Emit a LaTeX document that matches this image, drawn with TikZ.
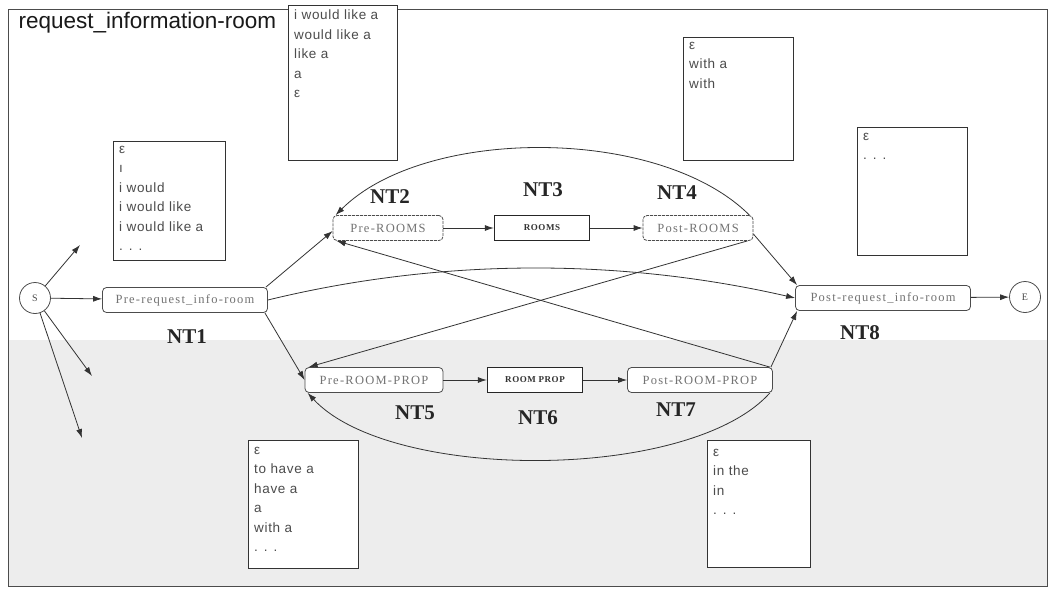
\documentclass[tikz,border=0pt]{standalone}
\usepackage{fontspec}
\setmainfont{Liberation Serif}
\setsansfont{Liberation Sans}
\newfontfamily\statefont[LetterSpace=10]{Liberation Serif}
\newfontfamily\corefont[LetterSpace=6]{Liberation Serif}
\newfontfamily\listfont[LetterSpace=5]{Liberation Sans}
\usetikzlibrary{arrows.meta}
\begin{document}
\begin{tikzpicture}[x=1pt,y=-1pt,
  state/.style={draw=black!70, line width=0.8pt, rounded corners=4pt, fill=white,
    font=\statefont\fontsize{12.5}{14}\selectfont, text=black!55, minimum height=25pt, inner sep=3pt},
  softstate/.style={state, dash pattern=on 3pt off 1pt},
  core/.style={draw=black!85, line width=1.4pt, fill=white,
    font=\corefont\fontsize{9}{10}\selectfont\bfseries, text=black!80, minimum height=25pt, minimum width=95pt},
  term/.style={circle, draw=black!70, line width=0.8pt, minimum size=31pt, fill=white,
    font=\fontsize{10}{12}\selectfont, text=black!70, inner sep=0pt},
  ntlabel/.style={font=\fontsize{21}{23}\selectfont\bfseries, text=black!85},
  listbox/.style={draw=black!80, line width=1pt, fill=white, anchor=north west, inner sep=0pt},
  listtext/.style={anchor=north west, align=left, font=\listfont\fontsize{13.5}{19.5}\selectfont,
    text=black!70, inner sep=0pt},
  link/.style={-{Latex[length=9pt,width=6pt]}, draw=black!80, line width=0.8pt}]

% page and frame
\useasboundingbox (0,0) rectangle (1053,590);
\fill[white] (0,0) rectangle (1053,590);
\fill[black!7] (8,340) rectangle (1047,586);
\draw[black!70, line width=1pt] (8,9) rectangle (1047,586);

% title
\node[anchor=west, font=\sffamily\fontsize{22.5}{26}\selectfont, text=black!90] (title) at (15,23) {request\_information-room};

% word lists
\node[listbox, minimum width=109pt, minimum height=155pt] (lA) at (288,5) {};
\node[listtext] (tA) at ([xshift=6pt,yshift=-5pt]lA.north west) {i would like a\\would like a\\like a\\a\\ε};

\node[listbox, minimum width=110pt, minimum height=123pt] (lB) at (683,37) {};
\node[listtext] (tB) at ([xshift=6pt,yshift=-5pt]lB.north west) {ε\\with a\\with};

\node[listbox, minimum width=110pt, minimum height=128pt] (lC) at (857,127) {};
\node[listtext] (tC) at ([xshift=6pt,yshift=-6pt]lC.north west) {ε\\. . .};

\node[listbox, minimum width=112pt, minimum height=119pt] (lD) at (113,141) {};
\node[listtext] (tD) at ([xshift=6pt,yshift=-5pt]lD.north west) {ε\\ı\\i would\\i would like\\i would like a\\. . .};

\node[listbox, minimum width=110pt, minimum height=128pt] (lE) at (248,440) {};
\node[listtext] (tE) at ([xshift=6pt,yshift=-7pt]lE.north west) {ε\\to have a\\have a\\a\\with a\\. . .};

\node[listbox, minimum width=103pt, minimum height=127pt] (lF) at (707,440) {};
\node[listtext] (tF) at ([xshift=6pt,yshift=-9pt]lF.north west) {ε\\in the\\in\\. . .};

% states
\node[term] (S) at (35,298) {S};
\node[term] (E) at (1025,297) {E};
\node[state, minimum width=165pt] (pre) at (185,300) {Pre-request\_info-room};
\node[softstate, minimum width=110pt] (preR) at (388,228) {Pre-ROOMS};
\node[core] (rooms) at (542,228) {ROOMS};
\node[softstate, minimum width=110pt] (postR) at (698,228) {Post-ROOMS};
\node[state, minimum width=138pt] (prp) at (374,380) {Pre-ROOM-PROP};
\node[core] (roomprop) at (535,380) {ROOM PROP};
\node[state, minimum width=145pt] (pstP) at (700,380) {Post-ROOM-PROP};
\node[state, minimum width=175pt] (post) at (883,298) {Post-request\_info-room};

% labels
\node[ntlabel] (nt1) at (187,337) {NT1};
\node[ntlabel] (nt2) at (390,197) {NT2};
\node[ntlabel] (nt3) at (543,190) {NT3};
\node[ntlabel] (nt4) at (677,193) {NT4};
\node[ntlabel] (nt5) at (415,413) {NT5};
\node[ntlabel] (nt6) at (538,418) {NT6};
\node[ntlabel] (nt7) at (676,410) {NT7};
\node[ntlabel] (nt8) at (860,333) {NT8};

% loose ends from the start state
\coordinate (s1) at (80,245);
\coordinate (s2) at (92,376);
\coordinate (s3) at (82,438);

% transitions
\draw[link] (S) -- (pre);
\draw[link] (S) -- (s1);
\draw[link] (S) -- (s2);
\draw[link] (S) -- (s3);
\draw[link] ([xshift=-2pt]pre.north east) -- ([yshift=-3pt]preR.west);
\draw[link] ([xshift=-3pt]pre.south east) -- (prp.west);
\draw[link] (pre.east) .. controls (440,258) and (620,258) .. (post.west);
\draw[link] (preR) -- (rooms);
\draw[link] (rooms) -- (postR);
\draw[link] (prp) -- (roomprop);
\draw[link] (roomprop) -- (pstP);
\draw[link] ([yshift=-6pt]postR.east) -- ([xshift=2pt]post.north west);
\draw[link] ([xshift=-2pt]pstP.north east) -- ([xshift=2pt]post.south west);
\draw[link] ([xshift=-6pt]postR.south east) -- ([xshift=4pt]prp.north west);
\draw[link] ([xshift=-3pt]pstP.north east) -- ([xshift=4pt]preR.south west);
\draw[link] ([xshift=-4pt]postR.north east) .. controls (660,126) and (425,126) .. ([xshift=3pt]preR.north west);
\draw[link] ([xshift=-3pt]pstP.south east) .. controls (690,482) and (390,482) .. ([xshift=3pt]prp.south west);
\draw[link] (post) -- (E);

\end{tikzpicture}
\end{document}
